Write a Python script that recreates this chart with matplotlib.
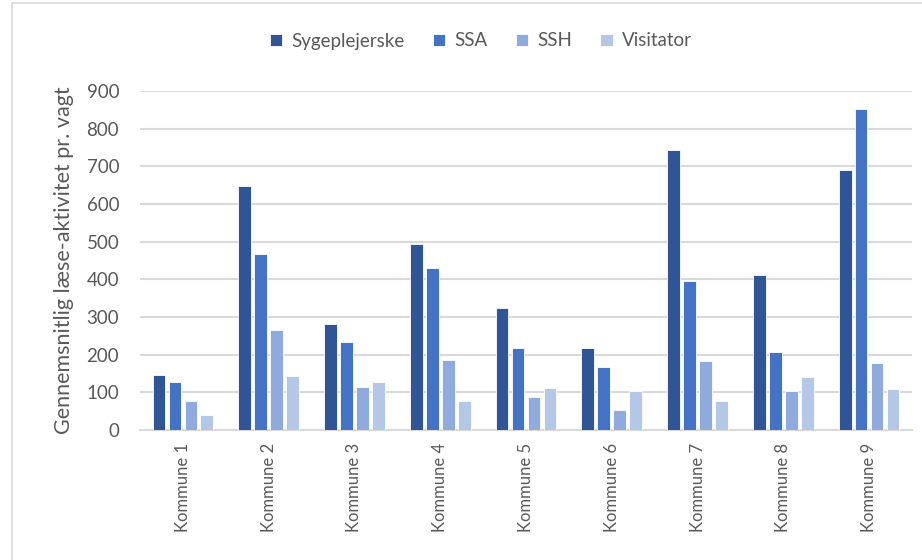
import matplotlib
matplotlib.use("Agg")
import matplotlib.pyplot as plt
import numpy as np
from matplotlib.patches import Rectangle

categories = ["Kommune 1", "Kommune 2", "Kommune 3", "Kommune 4", "Kommune 5",
              "Kommune 6", "Kommune 7", "Kommune 8", "Kommune 9"]
series_names = ["Sygeplejerske", "SSA", "SSH", "Visitator"]
sygeplejerske = [147, 648, 282, 493, 325, 217, 744, 411, 691]
ssa = [128, 467, 233, 431, 217, 167, 395, 206, 852]
ssh = [78, 266, 115, 187, 88, 52, 184, 104, 177]
visitator = [39, 144, 127, 78, 111, 104, 78, 142, 108]
yticks = [0, 100, 200, 300, 400, 500, 600, 700, 800, 900]
ylabel = "Gennemsnitlig læse-aktivitet pr. vagt"

colors = ["#2F5597", "#4472C4", "#8FAADC", "#B4C7E7"]
values = [sygeplejerske, ssa, ssh, visitator]

plt.rcParams['font.family'] = ['Lato', 'DejaVu Sans']
fig = plt.figure(figsize=(9.22, 5.6), dpi=100)
ax = fig.add_axes([140/922, 130/560, 772/922, 339/560])

x = np.arange(len(categories))
step = 0.186
width = 0.148
for i, (vals, c, name) in enumerate(zip(values, colors, series_names)):
    ax.bar(x + (i - 1.5) * step, vals, width=width, color=c, edgecolor="white",
           linewidth=0.6, label=name, zorder=3)

ax.set_xlim(-0.5, len(categories) - 0.5)
ax.set_ylim(0, 900)
ax.set_yticks(yticks)
ax.set_yticklabels([str(v) for v in yticks], fontsize=13.5, color="#595959")
ax.yaxis.grid(True, color="#D9D9D9", linewidth=1.5, zorder=0)
ax.set_axisbelow(True)
for s in ["top", "right", "left"]:
    ax.spines[s].set_visible(False)
ax.spines["bottom"].set_color("#D9D9D9")
ax.spines["bottom"].set_linewidth(1.5)
ax.tick_params(axis="y", length=0, pad=15)
ax.tick_params(axis="x", length=0, pad=9)
ax.set_xticks(x)
ax.set_xticklabels(categories, rotation=90, fontsize=12, color="#595959")
ax.set_ylabel(ylabel, fontsize=15.5, color="#595959", labelpad=9)

leg = fig.legend(loc="center", bbox_to_anchor=(481/922, 1 - 41/560), ncol=4,
                 frameon=False, fontsize=13.5, handlelength=0.65, handleheight=0.65,
                 handletextpad=0.5, columnspacing=1.5)
for t in leg.get_texts():
    t.set_color("#595959")

fig.add_artist(Rectangle((12/922, -0.05), 1.0, 1 - 3/560 + 0.05, transform=fig.transFigure,
                         fill=False, edgecolor="#D9D9D9", linewidth=1.2))

fig.savefig("out.png", dpi=100)
